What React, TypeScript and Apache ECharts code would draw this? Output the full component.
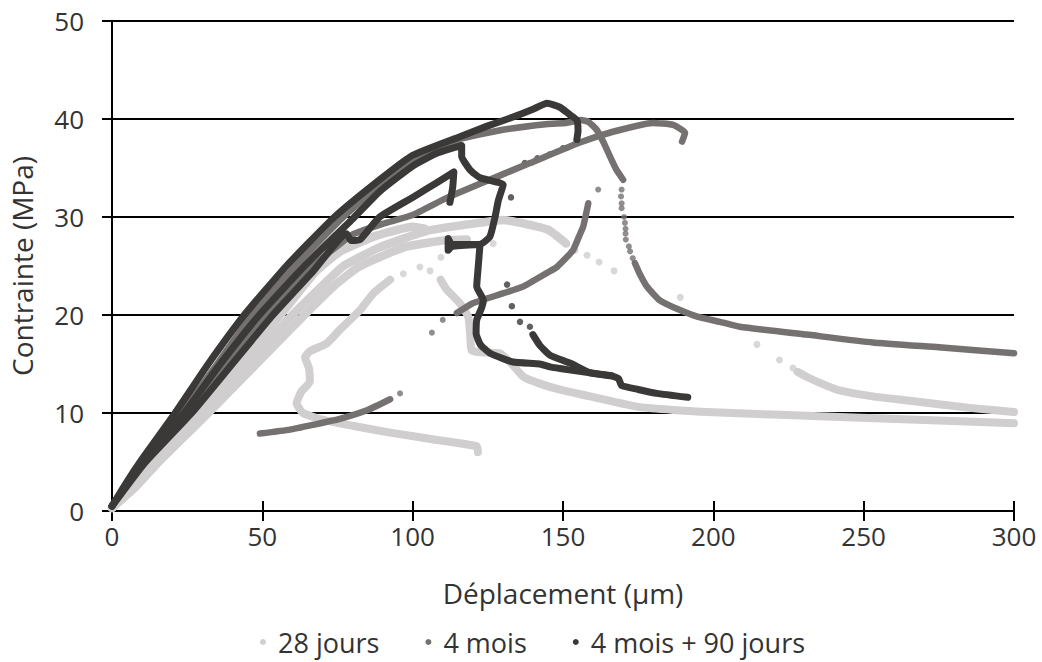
import React, { useEffect, useRef } from "react";
import * as echarts from "echarts";

type P = [number, number];

const C_LIGHT = "#D0CECE";
const C_MED = "#767171";
const C_DARK = "#3B3838";

const seriesNames = ["28 jours", "4 mois", "4 mois + 90 jours"];
const xTicks = { min: 0, max: 300, step: 50 };
const yTicks = { min: 0, max: 50, step: 10 };

// ---- 28 jours ----
const j28A: P[] = [[0,0.3],[7,2.5],[14.5,5],[30,10],[45,15],[60,20],[70,23],[77,25],[89,26.9],[105,28.6],[122,29.4],[130,29.7],[136,29.4],[145,28.7],[151,27.3]];
const j28ADots: P[] = [[154,26.6],[158,26.1],[162,25.4],[167,24.5],[189,21.8],[214.5,17.0],[222,15.4],[226.5,14.6]];
const j28ATail: P[] = [[228,14.2],[231,13.7],[236,13.0],[242,12.3],[253,11.7],[264,11.3],[286,10.5],[300,10.1]];
const j28B: P[] = [[0,0.3],[6,2.5],[13.5,5],[28.5,10],[42,15],[56,20],[68,24.5],[76,26.5],[88,28.1],[100,29],[104,28.8]];
const j28C: P[] = [[0,0.3],[8,2.5],[15.5,5],[32,10],[48,15],[64,20],[74,23],[82,24.9],[97,26.9],[110,27.6],[118,27.7]];
const j28CDots: P[] = [[109.4,25.9],[114.6,27.7],[126.8,27.3]];
const j28D: P[] = [[121.7,6.0],[121.4,6.6],[107,7.3],[92.5,8.0],[80,8.7],[70.2,9.3],[63.5,10.0],[61.4,11.0],[63,12.2],[65.8,13.2],[65.5,14.6],[64.2,15.7],[65.8,16.3],[71.4,17.1],[75.8,18.5],[82.5,20.5],[86.9,22.2],[92.5,23.6]];
const j28DDots: P[] = [[96.9,24.2],[102.4,24.9],[105.8,24.5]];
const j28DTail: P[] = [[109.3,23.6],[111.3,22.6],[115.7,21.2],[118.5,19.8],[119.1,18.1],[119.6,16.4],[122.4,16.2],[129,16.1],[133,15.0],[136.8,13.7],[142.3,13.0],[150,12.3],[159,11.7],[175.6,10.6],[197.8,10.1],[242,9.6],[300,8.95]];

// ---- 4 mois ----
const m4A: P[] = [[0,0.5],[10,5.1],[23,10],[35,15],[46.5,20],[61,25],[77,30],[92,34],[105,36.5],[115,37.9],[130,38.9],[145,39.5],[151,39.6],[156,39.9],[158.5,39.7],[161.2,38.9],[163.5,37.6],[165.6,36.2],[167.8,34.8],[170,33.8]];
const m4ADots: P[] = [[169.5,32.8],[169.3,32.1],[169.5,31.4],[169.5,30.9],[170.3,30.0],[170.6,29.4],[170.8,28.8],[170.8,28.3],[170.9,27.7],[171.9,27.0],[172.3,26.5],[173.2,25.8]];
const m4ATail: P[] = [[173.9,25.3],[175.5,24.2],[177.9,22.9],[182.2,21.5],[188.9,20.5],[195,19.8],[202.2,19.3],[208.8,18.8],[231,18.0],[253,17.2],[275,16.7],[300,16.1]];
const m4B: P[] = [[0,0.5],[12,5.3],[25.5,10],[38,15],[51,20],[66,24.8],[80,28.2],[90,29.3],[100,30.2],[111,31.9],[122.4,33.4],[139,35.5],[155.6,37.6],[166.6,38.7],[179.9,39.6],[186.6,39.4],[190.6,38.6],[189.6,37.7]];
const m4C: P[] = [[49.2,7.9],[59.2,8.3],[67,8.8],[75.8,9.4],[85,10.3],[92.5,11.4]];
const m4CDots: P[] = [[95.8,12.0]];
const m4DDots: P[] = [[106.4,18.2],[110,19.5],[161.7,32.8]];
const m4D: P[] = [[114.7,20.2],[120,21.2],[130,22.2],[136.7,22.9],[144.7,24.3],[148,24.9],[153.3,26.6],[155.3,28],[156.7,29.0],[157.6,30.2],[158.4,31.4]];

// ---- 4 mois + 90 jours ----
const d90A: P[] = [[0,0.5],[5,3],[10,5.3],[21,10],[32,15],[44,20],[58,25],[74,30],[89,33.8],[100,36.3],[115.7,38.2],[125,39.3],[133.4,40.2],[140,41],[144.7,41.6],[149,41.2],[152,40.5],[154.6,39.9],[155,38.8],[154.6,37.9]];
const d90ADots: P[] = [[150,37.0],[145.7,36.4],[141.5,36.0],[137.3,35.5],[132.7,32.0],[131.4,23.1],[133,20.9],[135.7,19.3],[139,18.8]];
const d90ATail: P[] = [[140,18.0],[142.3,16.9],[145.7,15.9],[152.3,15.1],[159,14.1],[166,13.8],[168.5,13.5],[169.5,12.8],[175,12.4],[181.2,12.0],[191.5,11.6]];
const d90B: P[] = [[0,0.5],[5,2.8],[10,5],[24,10],[36,15],[49,20],[64,25],[80,29.8],[89,32.6],[100,35.2],[108,36.5],[116.3,37.3],[116.3,36.2],[119.1,34.8],[122.4,34.0],[130.1,33.3],[128.5,31.7],[127.4,30.0],[125.7,28.0],[122.4,27.2],[113,27.2],[111.8,27.8],[111.8,26.6],[113,27.0],[122.4,27.2],[121.8,24.9],[121.3,22.9],[123.5,21.5],[122.9,20.7],[121.3,19.5],[121.1,18.1],[122.5,17],[125.7,16.1],[133.4,15.2],[142.3,15.0],[145.7,14.7],[152,14.4],[159,14.1],[166,13.8]];
const d90C: P[] = [[0,0.5],[10,4.6],[26.5,10],[40,15],[53.5,20],[67,24.5],[78,28.3],[79.5,27.6],[82.5,27.7],[89,30.0],[100,32.0],[108,33.5],[113.7,34.6],[113.3,33],[112.4,31.5]];

const FONT = "'Open Sans', sans-serif";
const TXT = "#333333";

function lineS(name: string, color: string, data: P[], width = 6) {
  return {
    type: "line", name, data, symbol: "none", showSymbol: false, smooth: 0.15,
    lineStyle: { color, width, cap: "round", join: "round" },
    itemStyle: { color }, silent: true,
  };
}
function dotS(name: string, color: string, data: P[], size = 6) {
  return { type: "scatter", name, data, symbolSize: size, itemStyle: { color }, silent: true };
}

export default function App() {
  const ref = useRef<HTMLDivElement>(null);
  useEffect(() => {
    if (!ref.current) return;
    const chart = echarts.init(ref.current, null, { renderer: "svg" });
    const [n1, n2, n3] = seriesNames;
    const axisCommon = {
      type: "value", min: xTicks.min, max: xTicks.max, interval: xTicks.step,
    };
    chart.setOption({
      animation: false,
      textStyle: { fontFamily: FONT },
      grid: { left: 112, right: 28, top: 21, bottom: 151, containLabel: false },
      legend: {
        data: seriesNames.map((n) => ({ name: n, icon: "circle" })),
        left: 260, top: 626, itemWidth: 20, itemHeight: 6, itemGap: 46,
        selectedMode: false, padding: 0,
        textStyle: { fontFamily: FONT, fontSize: 27, lineHeight: 32, color: TXT },
      },
      xAxis: [
        {
          ...axisCommon,
          axisLine: { show: true, lineStyle: { color: "#000", width: 2 } },
          axisTick: { show: true, inside: false, length: 10, lineStyle: { color: "#000", width: 2 } },
          axisLabel: { margin: 12, fontSize: 26, color: TXT, fontFamily: FONT },
          splitLine: { show: false },
          name: "Déplacement (µm)", nameLocation: "middle", nameGap: 68,
          nameTextStyle: { fontSize: 28, color: TXT, fontFamily: FONT },
        },
        {
          ...axisCommon, position: "bottom",
          axisLine: { show: false },
          axisTick: { show: true, inside: true, length: 10, lineStyle: { color: "#000", width: 2 } },
          axisLabel: { show: false }, splitLine: { show: false },
        },
      ],
      yAxis: {
        type: "value", min: yTicks.min, max: yTicks.max, interval: yTicks.step,
        axisLine: { show: true, lineStyle: { color: "#000", width: 2 } },
        axisTick: { show: true, inside: false, length: 10, lineStyle: { color: "#000", width: 2 } },
        axisLabel: { margin: 28, fontSize: 26, color: TXT, fontFamily: FONT },
        splitLine: { show: true, lineStyle: { color: "#000", width: 2 } },
        name: "Contrainte (MPa)", nameLocation: "middle", nameGap: 76,
        nameTextStyle: { fontSize: 28, color: TXT, fontFamily: FONT },
      },
      series: [
        lineS(n1, C_LIGHT, j28A, 8.5),
        dotS(n1, C_LIGHT, j28ADots, 7),
        lineS(n1, C_LIGHT, j28ATail, 8),
        lineS(n1, C_LIGHT, j28B, 8.5),
        lineS(n1, C_LIGHT, j28C, 8.5),
        dotS(n1, C_LIGHT, j28CDots, 7),
        lineS(n1, C_LIGHT, j28D, 8),
        dotS(n1, C_LIGHT, j28DDots, 7),
        lineS(n1, C_LIGHT, j28DTail, 8),
        lineS(n2, C_MED, m4A, 6.5),
        dotS(n2, C_MED, m4ADots, 6),
        lineS(n2, C_MED, m4ATail, 6.5),
        lineS(n2, C_MED, m4B, 6.5),
        lineS(n2, C_MED, m4C, 6.5),
        dotS(n2, C_MED, m4CDots, 6),
        dotS(n2, C_MED, m4DDots, 6),
        lineS(n2, C_MED, m4D, 6.5),
        lineS(n3, C_DARK, d90A, 7),
        dotS(n3, C_DARK, d90ADots, 6.5),
        lineS(n3, C_DARK, d90ATail, 7),
        lineS(n3, C_DARK, d90B, 7),
        lineS(n3, C_DARK, d90C, 7),
      ],
    });
    return () => chart.dispose();
  }, []);
  return <div ref={ref} style={{ width: 1042, height: 662, position: "absolute", left: 0, top: 0 }} />;
}
